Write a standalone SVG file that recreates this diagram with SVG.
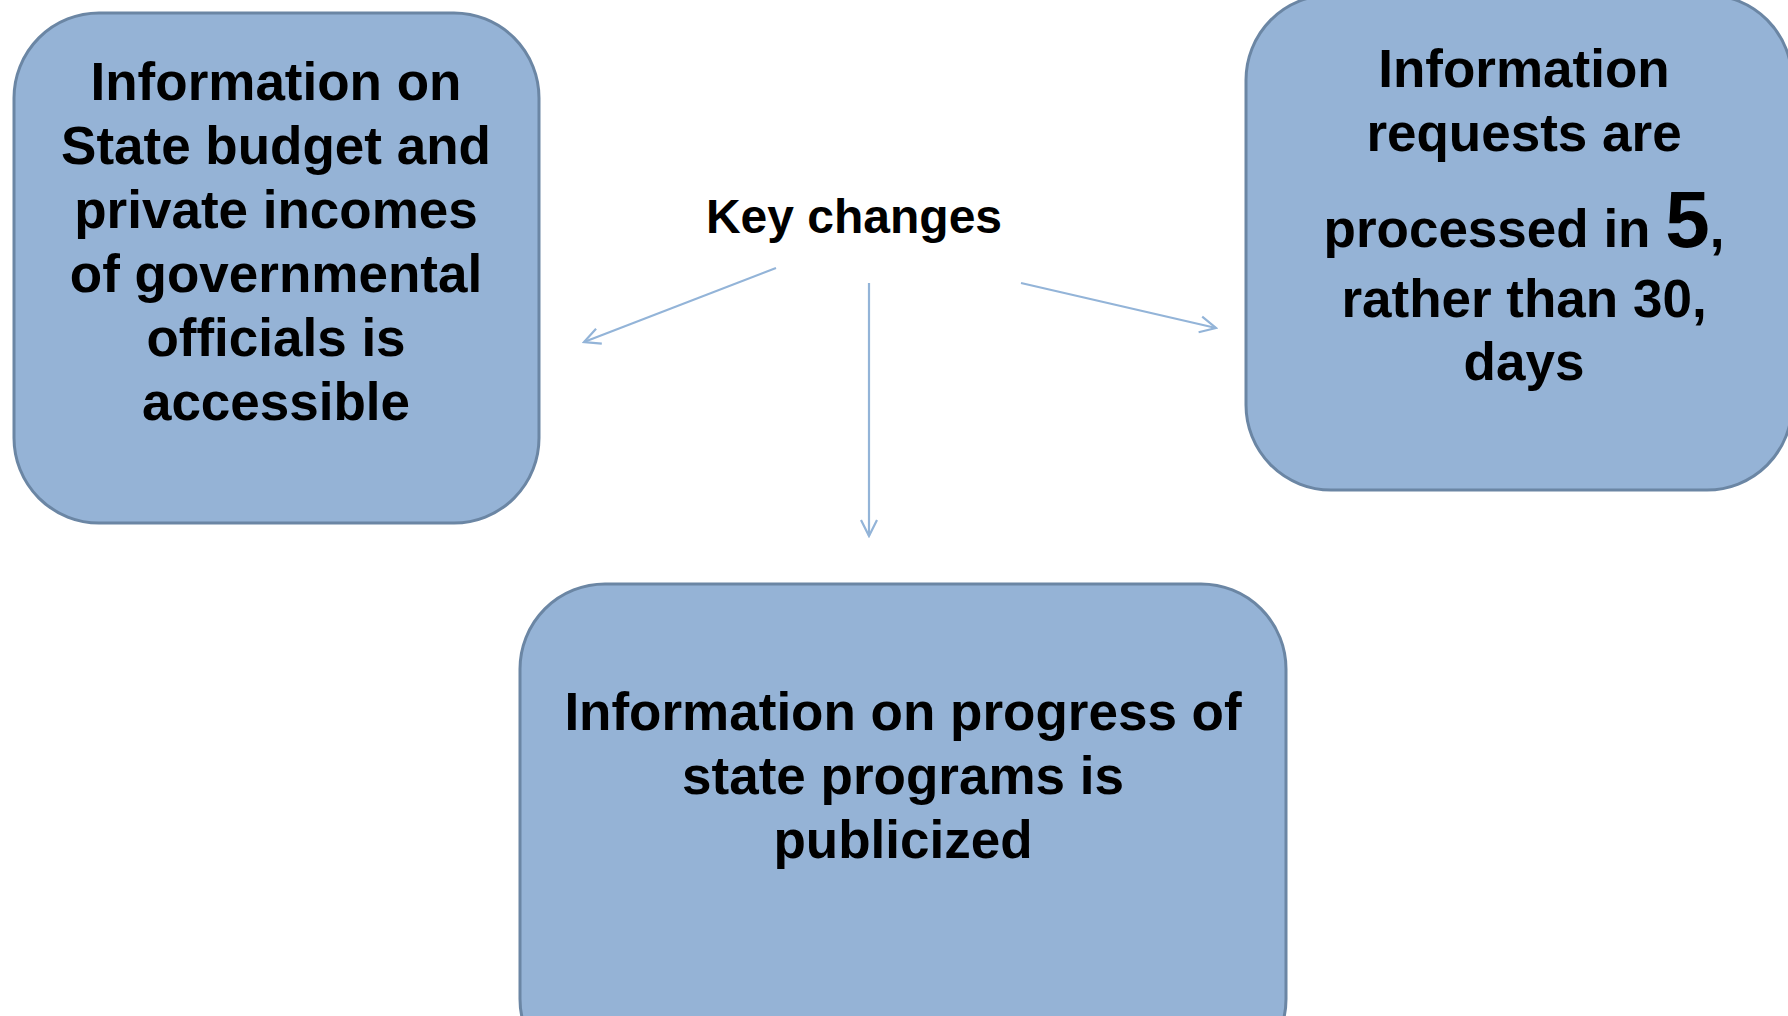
<svg xmlns="http://www.w3.org/2000/svg" width="1788" height="1016" viewBox="0 0 1788 1016">
<defs>
<style>
.box{fill:#95B3D6;stroke:#6B86A4;stroke-width:3}
.t{font-family:"Liberation Sans",Arial,sans-serif;font-weight:bold;font-size:53px;fill:#000;text-anchor:middle}
.c{fill:none;stroke:#93B4D8;stroke-width:2.2}
</style>
<marker id="ah" viewBox="0 0 20 20" refX="18" refY="10" markerWidth="20" markerHeight="20" markerUnits="userSpaceOnUse" orient="auto">
<path d="M2,2 L18,10 L2,18" fill="none" stroke="#93B4D8" stroke-width="2.2"/>
</marker>
</defs>
<rect width="1788" height="1016" fill="#fff"/>
<g id="connectors">
<line class="c" x1="776" y1="268" x2="584" y2="342" marker-end="url(#ah)"/>
<line class="c" x1="869" y1="283" x2="869" y2="536" marker-end="url(#ah)"/>
<line class="c" x1="1021" y1="283" x2="1216" y2="328" marker-end="url(#ah)"/>
</g>
<g id="node-left">
<rect class="box" x="14" y="13" width="525" height="510" rx="85" ry="85"/>
<text class="t" x="276" y="100">Information on</text>
<text class="t" x="276" y="164">State budget and</text>
<text class="t" x="276" y="228">private incomes</text>
<text class="t" x="276" y="292">of governmental</text>
<text class="t" x="276" y="356">officials is</text>
<text class="t" x="276" y="420">accessible</text>
</g>
<g id="node-key">
<text class="t" x="854" y="233" style="font-size:48px">Key changes</text>
</g>
<g id="node-right">
<rect class="box" x="1246" y="-5" width="546" height="495" rx="85" ry="85"/>
<text class="t" x="1524" y="87">Information</text>
<text class="t" x="1524" y="151">requests are</text>
<text class="t" x="1524" y="247">processed in <tspan style="font-size:80px">5</tspan>,</text>
<text class="t" x="1524" y="317">rather than 30,</text>
<text class="t" x="1524" y="380">days</text>
</g>
<g id="node-bottom">
<rect class="box" x="520" y="584" width="766" height="500" rx="85" ry="85"/>
<text class="t" x="903" y="730">Information on progress of</text>
<text class="t" x="903" y="794">state programs is</text>
<text class="t" x="903" y="858">publicized</text>
</g>
</svg>
